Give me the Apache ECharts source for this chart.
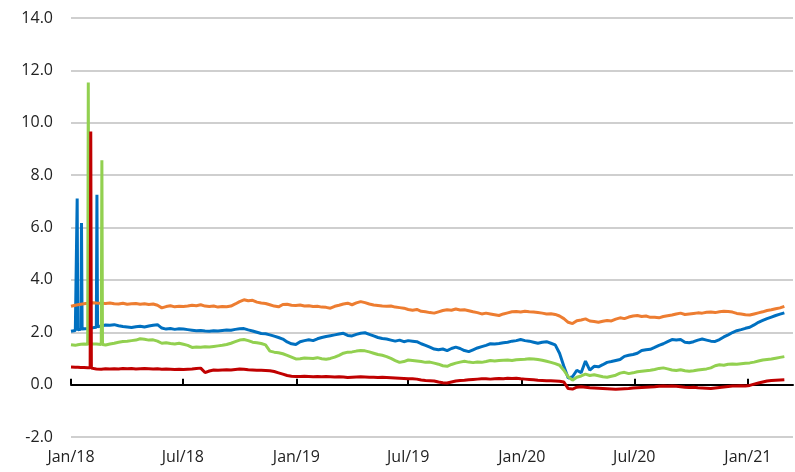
<!DOCTYPE html>
<html>
<head>
<meta charset="utf-8">
<script src="https://cdn.jsdelivr.net/npm/echarts@6/dist/echarts.min.js"></script>
<style>
html,body{margin:0;padding:0;background:#fff;}
#chart{width:795px;height:472px;}
</style>
</head>
<body>
<div id="chart"></div>
<script>
// ---- categories (dates) ----
const earlyDates = ['2018-01-01','2018-01-08','2018-01-10','2018-01-11','2018-01-12','2018-01-15','2018-01-17','2018-01-18','2018-01-19','2018-01-22','2018-01-28','2018-01-29','2018-01-30','2018-02-01','2018-02-02','2018-02-03','2018-02-05','2018-02-11','2018-02-12','2018-02-13','2018-02-19','2018-02-20','2018-02-21','2018-02-26'];
const weeklyDates = [
'2018-03-05','2018-03-12','2018-03-19','2018-03-26','2018-04-02','2018-04-09','2018-04-16','2018-04-23','2018-04-30','2018-05-07','2018-05-14','2018-05-21','2018-05-28','2018-06-04','2018-06-11','2018-06-18','2018-06-25','2018-07-02','2018-07-09','2018-07-16','2018-07-23','2018-07-30','2018-08-06','2018-08-13','2018-08-20','2018-08-27','2018-09-03','2018-09-10','2018-09-17','2018-09-24','2018-10-01','2018-10-08','2018-10-15','2018-10-22','2018-10-29','2018-11-05','2018-11-12','2018-11-19','2018-11-26','2018-12-03','2018-12-10','2018-12-17','2018-12-24','2018-12-31',
'2019-01-07','2019-01-14','2019-01-21','2019-01-28','2019-02-04','2019-02-11','2019-02-18','2019-02-25','2019-03-04','2019-03-11','2019-03-18','2019-03-25','2019-04-01','2019-04-08','2019-04-15','2019-04-22','2019-04-29','2019-05-06','2019-05-13','2019-05-20','2019-05-27','2019-06-03','2019-06-10','2019-06-17','2019-06-24','2019-07-01','2019-07-08','2019-07-15','2019-07-22','2019-07-29','2019-08-05','2019-08-12','2019-08-19','2019-08-26','2019-09-02','2019-09-09','2019-09-16','2019-09-23','2019-09-30','2019-10-07','2019-10-14','2019-10-21','2019-10-28','2019-11-04','2019-11-11','2019-11-18','2019-11-25','2019-12-02','2019-12-09','2019-12-16','2019-12-23','2019-12-30',
'2020-01-06','2020-01-13','2020-01-20','2020-01-27','2020-02-03','2020-02-10','2020-02-17','2020-02-24','2020-03-02','2020-03-09','2020-03-16','2020-03-23','2020-03-30','2020-04-06','2020-04-13','2020-04-20','2020-04-27','2020-05-04','2020-05-11','2020-05-18','2020-05-25','2020-06-01','2020-06-08','2020-06-15','2020-06-22','2020-06-29','2020-07-06','2020-07-13','2020-07-20','2020-07-27','2020-08-03','2020-08-10','2020-08-17','2020-08-24','2020-08-31','2020-09-07','2020-09-14','2020-09-21','2020-09-28','2020-10-05','2020-10-12','2020-10-19','2020-10-26','2020-11-02','2020-11-09','2020-11-16','2020-11-23','2020-11-30','2020-12-07','2020-12-14','2020-12-21','2020-12-28',
'2021-01-04','2021-01-11','2021-01-18','2021-01-25','2021-02-01','2021-02-08','2021-02-15','2021-02-22','2021-03-01'];

// ---- series values ----
const blueEarly = [2.04,2.07,2.08,7.11,2.09,2.10,2.11,6.17,2.12,2.12,2.14,2.15,2.15,2.16,2.16,2.17,2.17,2.19,7.25,2.21,2.24,2.25,2.26,2.28];
const blueWeekly = [
2.27,2.29,2.25,2.22,2.20,2.18,2.21,2.23,2.20,2.24,
2.27,2.29,2.16,2.12,2.14,2.11,2.13,2.12,2.10,2.08,
2.06,2.07,2.05,2.04,2.06,2.05,2.07,2.09,2.08,2.11,
2.13,2.14,2.09,2.05,2.00,1.95,1.94,1.90,1.85,1.80,
1.74,1.63,1.56,1.53,1.64,1.68,1.71,1.68,1.75,1.80,
1.84,1.87,1.90,1.93,1.96,1.88,1.86,1.92,1.96,1.98,
1.92,1.86,1.80,1.76,1.74,1.70,1.66,1.70,1.64,1.68,
1.66,1.64,1.56,1.50,1.43,1.36,1.33,1.36,1.30,1.38,
1.43,1.38,1.30,1.26,1.33,1.40,1.45,1.50,1.56,1.55,
1.57,1.60,1.62,1.66,1.68,1.72,1.68,1.66,1.62,1.58,
1.62,1.64,1.58,1.52,1.20,0.70,0.25,0.30,0.55,0.45,
0.90,0.55,0.70,0.68,0.76,0.85,0.88,0.92,0.96,1.08,
1.12,1.15,1.20,1.30,1.33,1.35,1.42,1.50,1.56,1.64,
1.72,1.70,1.72,1.62,1.60,1.64,1.70,1.74,1.70,1.66,
1.65,1.72,1.82,1.90,1.99,2.06,2.10,2.15,2.19,2.28,
2.38,2.45,2.52,2.58,2.64,2.69,2.74];

const orangeEarly = [2.99,3.03,3.04,3.04,3.05,3.06,3.07,3.08,3.08,3.09,3.11,3.12,3.12,3.12,3.13,3.13,3.13,3.12,3.12,3.12,3.11,3.11,3.11,3.10];
const orangeWeekly = [
3.12,3.09,3.08,3.11,3.07,3.09,3.10,3.07,3.09,3.06,
3.08,3.03,2.93,2.98,3.01,2.97,2.99,2.98,3.00,3.03,
3.01,3.05,3.00,2.98,3.00,2.96,2.98,2.97,3.00,3.08,
3.17,3.24,3.20,3.22,3.15,3.12,3.10,3.05,3.00,2.97,
3.06,3.07,3.03,3.02,3.04,3.00,3.01,2.98,2.99,2.96,
2.95,2.92,2.99,3.03,3.08,3.11,3.05,3.12,3.17,3.13,
3.08,3.04,3.02,3.00,2.99,3.00,2.96,2.94,2.92,2.87,
2.84,2.87,2.80,2.78,2.75,2.73,2.78,2.83,2.86,2.84,
2.89,2.85,2.86,2.82,2.78,2.75,2.70,2.73,2.70,2.67,
2.64,2.70,2.74,2.78,2.79,2.77,2.80,2.78,2.77,2.75,
2.73,2.70,2.71,2.68,2.62,2.52,2.38,2.33,2.44,2.47,
2.51,2.43,2.41,2.38,2.42,2.45,2.43,2.50,2.55,2.52,
2.58,2.62,2.64,2.60,2.62,2.57,2.57,2.55,2.60,2.63,
2.66,2.70,2.73,2.68,2.70,2.72,2.74,2.73,2.76,2.77,
2.75,2.78,2.80,2.79,2.77,2.72,2.70,2.67,2.66,2.70,
2.74,2.78,2.83,2.86,2.90,2.93,2.99];

const greenEarly = [1.52,1.50,1.51,1.52,1.52,1.53,1.54,1.54,1.55,1.55,1.54,11.54,1.54,1.55,1.55,1.55,1.56,1.55,1.55,1.55,1.53,8.57,1.53,1.51];
const greenWeekly = [
1.55,1.58,1.62,1.65,1.66,1.68,1.70,1.75,1.73,1.70,
1.71,1.66,1.58,1.60,1.57,1.55,1.58,1.54,1.50,1.42,
1.44,1.43,1.45,1.44,1.46,1.48,1.50,1.53,1.58,1.64,
1.70,1.72,1.68,1.62,1.60,1.57,1.52,1.28,1.24,1.22,
1.18,1.12,1.05,0.98,0.99,1.02,1.01,1.00,1.03,0.99,
0.97,1.00,1.05,1.12,1.20,1.24,1.25,1.28,1.30,1.29,
1.25,1.20,1.15,1.12,1.07,1.00,0.92,0.85,0.88,0.94,
0.92,0.90,0.88,0.85,0.86,0.82,0.78,0.72,0.70,0.77,
0.82,0.86,0.89,0.86,0.84,0.86,0.85,0.88,0.92,0.90,
0.92,0.93,0.94,0.92,0.95,0.96,0.97,0.99,0.98,0.96,
0.93,0.89,0.85,0.80,0.74,0.55,0.30,0.17,0.28,0.33,
0.40,0.35,0.38,0.34,0.30,0.28,0.32,0.36,0.44,0.47,
0.42,0.45,0.49,0.51,0.53,0.55,0.58,0.62,0.64,0.60,
0.56,0.54,0.57,0.53,0.51,0.53,0.56,0.58,0.60,0.64,
0.72,0.76,0.74,0.78,0.79,0.78,0.80,0.82,0.83,0.86,
0.90,0.94,0.96,0.98,1.01,1.04,1.07];

const redEarly = [0.67,0.66,0.66,0.66,0.66,0.66,0.65,0.65,0.65,0.65,0.64,0.64,0.64,0.64,9.67,0.63,0.62,0.60,0.60,0.60,0.59,0.59,0.60,0.61];
const redWeekly = [
0.60,0.61,0.60,0.62,0.61,0.62,0.60,0.61,0.62,0.61,
0.60,0.61,0.59,0.60,0.59,0.58,0.59,0.58,0.59,0.60,
0.62,0.63,0.46,0.52,0.56,0.55,0.56,0.57,0.56,0.58,
0.60,0.59,0.57,0.56,0.55,0.55,0.54,0.53,0.50,0.45,
0.40,0.35,0.32,0.31,0.31,0.32,0.31,0.30,0.31,0.30,
0.31,0.30,0.29,0.30,0.29,0.27,0.28,0.29,0.30,0.29,
0.28,0.28,0.27,0.28,0.27,0.26,0.25,0.24,0.23,0.22,
0.22,0.21,0.18,0.16,0.15,0.14,0.10,0.07,0.06,0.10,
0.14,0.16,0.17,0.19,0.20,0.21,0.22,0.22,0.21,0.22,
0.23,0.22,0.24,0.23,0.24,0.22,0.21,0.20,0.19,0.17,
0.16,0.15,0.15,0.14,0.13,0.10,-0.15,-0.17,-0.10,-0.08,
-0.10,-0.12,-0.13,-0.14,-0.15,-0.16,-0.17,-0.18,-0.17,-0.16,
-0.15,-0.13,-0.12,-0.11,-0.10,-0.09,-0.08,-0.06,-0.05,-0.06,
-0.05,-0.06,-0.08,-0.10,-0.11,-0.10,-0.12,-0.13,-0.14,-0.15,
-0.13,-0.11,-0.09,-0.07,-0.05,-0.05,-0.04,-0.05,-0.03,0.02,
0.06,0.10,0.14,0.16,0.17,0.18,0.19];

// ---- tick labels ----
const tickDates = ['2018-01-01','2018-07-01','2019-01-01','2019-07-01','2020-01-01','2020-07-01','2021-01-01'];
const tickLabels = ['Jan/18','Jul/18','Jan/19','Jul/19','Jan/20','Jul/20','Jan/21'];

function ts(s){ const p = s.split('-').map(Number); return Date.UTC(p[0], p[1]-1, p[2]); }
const dates = earlyDates.concat(weeklyDates).map(ts);
const tickTs = tickDates.map(ts);
function pairs(vals){ return dates.map((d,i)=>[d, vals[i]]); }

const xMin = ts('2018-01-01');
const xMax = ts('2021-03-15');
const FONT = 'Open Sans';

const seriesDefs = [
  {name:'Blue', color:'#0070C0', vals: blueEarly.concat(blueWeekly)},
  {name:'Orange', color:'#ED7D31', vals: orangeEarly.concat(orangeWeekly)},
  {name:'Green', color:'#92D050', vals: greenEarly.concat(greenWeekly)},
  {name:'Red', color:'#C00000', vals: redEarly.concat(redWeekly)}
];

const chart = echarts.init(document.getElementById('chart'), null, {renderer:'canvas'});
chart.setOption({
  animation: false,
  backgroundColor: '#fff',
  grid: {left: 71, right: 2, top: 18, bottom: 35, containLabel: false},
  xAxis: [
    {
      type: 'value', min: xMin, max: xMax, position: 'bottom',
      axisLine: {show: false, onZero: false},
      axisTick: {show: false},
      splitLine: {show: false},
      axisLabel: {
        customValues: tickTs,
        formatter: function(v){ const i = tickTs.indexOf(v); return i >= 0 ? tickLabels[i] : ''; },
        color: '#222', fontSize: 16, fontFamily: FONT, margin: 12
      }
    },
    {
      type: 'value', min: xMin, max: xMax, position: 'bottom',
      axisLine: {show: true, onZero: true, onZeroAxisIndex: 0, lineStyle: {color: '#000', width: 2}},
      axisTick: {show: true, inside: true, length: 6, customValues: tickTs, lineStyle: {color: '#000', width: 2}},
      axisLabel: {show: false},
      splitLine: {show: false}
    }
  ],
  yAxis: {
    type: 'value', min: -2, max: 14, interval: 2,
    axisLine: {show: false}, axisTick: {show: false},
    splitLine: {show: true, lineStyle: {color: '#CFCFCF', width: 2}},
    axisLabel: {formatter: v => v.toFixed(1), color: '#222', fontSize: 16, fontFamily: FONT, margin: 18}
  },
  series: seriesDefs.map((s, k) => ({
    name: s.name, type: 'line', xAxisIndex: 0, data: pairs(s.vals),
    showSymbol: false, symbol: 'none', z: 2 + k,
    lineStyle: {color: s.color, width: 3}, itemStyle: {color: s.color}
  }))
});
</script>
</body>
</html>
